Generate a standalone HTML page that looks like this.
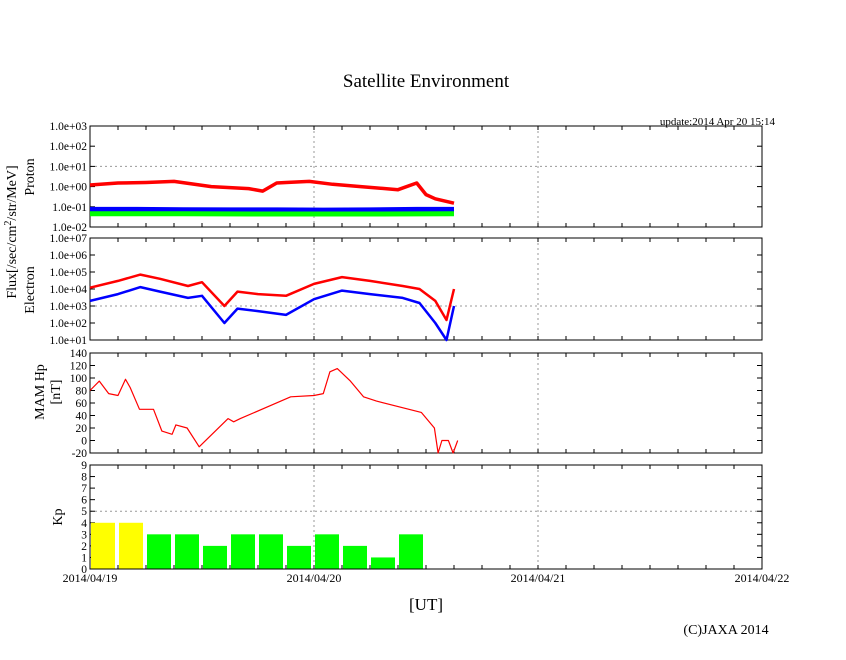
<!DOCTYPE html>
<html><head><meta charset="utf-8"><style>
body{margin:0;background:#fff;}
svg text{font-family:"Liberation Serif",serif;fill:#000;}
</style></head><body>
<svg id="c" width="846" height="655" xmlns="http://www.w3.org/2000/svg">
<text x="426" y="87" font-size="19" text-anchor="middle">Satellite Environment</text>
<text x="775" y="125" font-size="11" text-anchor="end">update:2014 Apr 20 15:14</text>
<text transform="translate(16,232) rotate(-90)" font-size="14" text-anchor="middle">Flux[/sec/cm<tspan dy="-5" font-size="10">2</tspan><tspan dy="5">/str/MeV]</tspan></text>
<text transform="translate(34,177) rotate(-90)" font-size="14" text-anchor="middle">Proton</text>
<text transform="translate(34,290) rotate(-90)" font-size="14" text-anchor="middle">Electron</text>
<text transform="translate(44,392) rotate(-90)" font-size="14" text-anchor="middle">MAM Hp</text>
<text transform="translate(60,392) rotate(-90)" font-size="14" text-anchor="middle">[nT]</text>
<text transform="translate(62,517) rotate(-90)" font-size="14" text-anchor="middle">Kp</text>
<text x="426" y="610" font-size="17" text-anchor="middle">[UT]</text>
<text x="726" y="634" font-size="14" text-anchor="middle">(C)JAXA 2014</text>
<g id="g"></g>
</svg>
<script>
const dayLabels=["2014/04/19","2014/04/20","2014/04/21","2014/04/22"];
const protonTicks=["1.0e-02","1.0e-01","1.0e+00","1.0e+01","1.0e+02","1.0e+03"];
const electronTicks=["1.0e+01","1.0e+02","1.0e+03","1.0e+04","1.0e+05","1.0e+06","1.0e+07"];
const mamTicks=[-20,0,20,40,60,80,100,120,140];
const kpTicks=[0,1,2,3,4,5,6,7,8,9];
const pRedH=[0,3,6,9,13,17,18.5,20,21,23.5,26,29,33,35,36,37,39];
const pRedV=[1.2,1.5,1.6,1.8,1.0,0.8,0.6,1.5,1.6,1.8,1.3,1.0,0.7,1.5,0.4,0.25,0.15];
const pBlueH=[0,5,10,15,20,25,30,35,39];
const pBlueV=[0.07,0.07,0.068,0.066,0.066,0.065,0.066,0.07,0.07];
const pGreenH=[0,10,20,30,39];
const pGreenV=[0.045,0.045,0.044,0.044,0.045];
const eRedH=[0,3,5.4,7.5,10.5,12,14.4,15.8,18,21,24,27,30,33.5,35.3,37,38.2,39];
const eRedV=[1.2e4,3e4,7e4,4e4,1.5e4,2.5e4,1e3,7e3,5e3,4e3,2e4,5e4,3e4,1.5e4,1e4,2e3,1.5e2,1e4];
const eBlueH=[0,3,5.4,7.5,10.5,12,14.4,15.8,18,21,24,27,30,33.5,35.3,37,38.2,39];
const eBlueV=[2e3,5e3,1.3e4,7e3,3e3,4e3,1e2,7e2,5e2,3e2,2.5e3,8e3,5e3,3e3,1.5e3,1e2,10,1e3];
const mamH=[0,1,2,3,3.8,4.3,5.3,6.8,7.7,8.8,9.2,10.4,11.7,14.8,15.4,16.1,21.5,24,25,25.7,26.5,27.9,29.3,30.7,35.5,36.9,37.3,37.7,38.4,38.9,39.4];
const mamV=[80,95,75,72,98,85,50,50,15,10,25,20,-10,35,30,35,70,72,75,110,115,95,70,63,45,20,-20,0,0,-20,0];
const kpV=[4,4,3,3,2,3,3,2,3,2,1,3];
const X0=90,X1=762,DAYS=3;
const xs=h=>X0+h/(24*DAYS)*(X1-X0);
const P={p:[126,227],e:[238,340],m:[353,453],k:[465,569]};
const g=document.getElementById('g');const NS="http://www.w3.org/2000/svg";
function mk(t,a,par){const e=document.createElementNS(NS,t);for(const k in a)e.setAttribute(k,a[k]);(par||g).appendChild(e);return e;}
const logY=(v,lo,hi,r)=>r[1]-(Math.log10(v)-lo)/(hi-lo)*(r[1]-r[0]);
const linY=(v,lo,hi,r)=>r[1]-(v-lo)/(hi-lo)*(r[1]-r[0]);
const yP=v=>logY(v,-2,3,P.p),yE=v=>logY(v,1,7,P.e),yM=v=>linY(v,-20,140,P.m),yK=v=>linY(v,0,9,P.k);
function panel(r,name){
 for(let d=1;d<DAYS;d++){const l=mk('line',{x1:xs(d*24),x2:xs(d*24),y1:r[0],y2:r[1],stroke:'#999','stroke-dasharray':'2,3'});
 
 }
 for(let h=3;h<72;h+=3){mk('line',{x1:xs(h),x2:xs(h),y1:r[1],y2:r[1]-4,stroke:'#000'});mk('line',{x1:xs(h),x2:xs(h),y1:r[0],y2:r[0]+4,stroke:'#000'});}
 const b=mk('rect',{x:X0,y:r[0],width:X1-X0,height:r[1]-r[0],fill:'none',stroke:'#000','stroke-width':1});
 
 
}
function hgrid(y,name){const l=mk('line',{x1:X0,x2:X1,y1:y,y2:y,stroke:'#999','stroke-dasharray':'2,3'});
 
 }
function yticks(labels,vals,f,name){labels.forEach((t,i)=>{const y=f(vals[i]);mk('line',{x1:X0,x2:X0+5,y1:y,y2:y,stroke:'#000'});mk('line',{x1:X1,x2:X1-5,y1:y,y2:y,stroke:'#000'});
 const e=mk('text',{x:X0-3,y:y+4,'font-size':11.5,'text-anchor':'end'});e.textContent=t;
 
 });}
function line(H,V,f,col,w,name){const d=H.map((h,i)=>(i?'L':'M')+xs(h).toFixed(1)+','+f(V[i]).toFixed(1)).join('');
 const p=mk('path',{d:d,fill:'none',stroke:col,'stroke-width':w,'stroke-linejoin':'round'});
 
 }
panel(P.p,'proton');hgrid(yP(10),'proton');
yticks(protonTicks,protonTicks.map(Number),yP,'proton');
line(pBlueH,pBlueV,yP,'#00f',6,'proton-blue-series');
line(pGreenH,pGreenV,yP,'#0f0',5,'proton-green-series');
line(pRedH,pRedV,yP,'#f00',3.5,'proton-red-series');
panel(P.e,'electron');hgrid(yE(1e3),'electron');
yticks(electronTicks,electronTicks.map(Number),yE,'electron');
line(eBlueH,eBlueV,yE,'#00f',2.5,'electron-blue-series');
line(eRedH,eRedV,yE,'#f00',2.5,'electron-red-series');
panel(P.m,'mam');
yticks(mamTicks.map(String),mamTicks,yM,'mam');
line(mamH,mamV,yM,'#f00',1.2,'mam-hp-series');
panel(P.k,'kp');hgrid(yK(5),'kp');
yticks(kpTicks.map(String),kpTicks,yK,'kp');
kpV.forEach((v,i)=>{const r=mk('rect',{x:xs(i*3)+1,y:yK(v),width:xs(3)-xs(0)-4,height:yK(0)-yK(v),fill:v>=4?'#ff0':'#0f0'});
 
 });
mk('line',{x1:X0,x2:X1,y1:P.k[1],y2:P.k[1],stroke:'#000'});
dayLabels.forEach((t,i)=>{const e=mk('text',{x:xs(i*24),y:582,'font-size':12,'text-anchor':'middle'});e.textContent=t;
 
 });
</script>
</body></html>
